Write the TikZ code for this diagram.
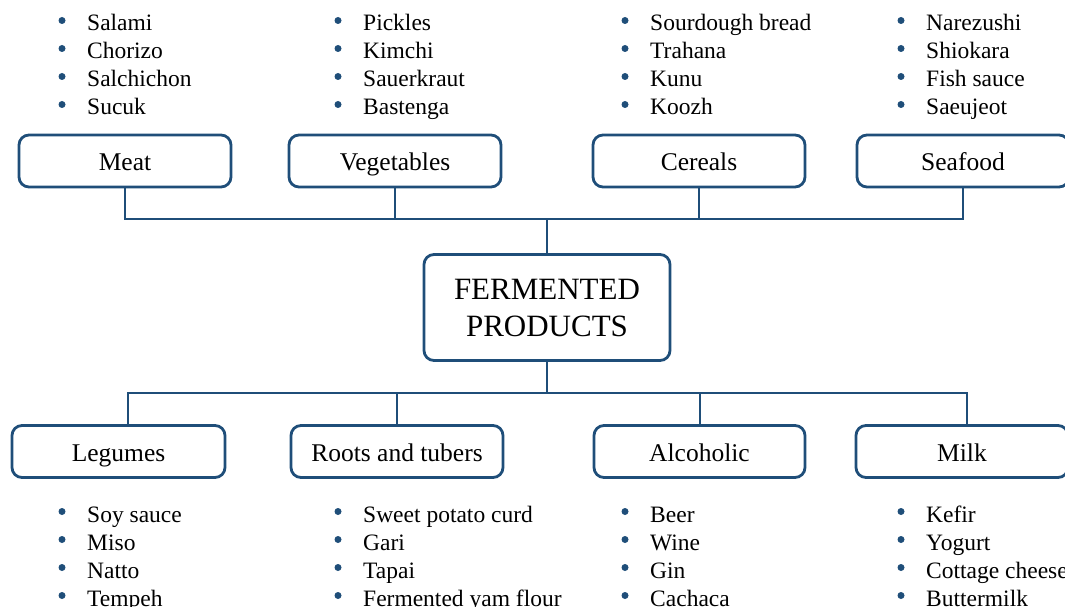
\documentclass[tikz,border=0pt]{standalone}
\usepackage{fontspec}
\setmainfont{Liberation Serif}
\definecolor{fblue}{RGB}{31,78,121}
\tikzset{
  boxbase/.style={draw=fblue, line width=2.8pt, rounded corners=10pt, inner sep=0pt, text=black},
  catbox/.style={boxbase, minimum width=212pt, minimum height=52pt, text height=19.5pt, text depth=0.5pt, font=\fontsize{25.5}{30}\selectfont},
  mainbox/.style={boxbase, minimum width=246pt, minimum height=106pt, font=\fontsize{31}{37}\selectfont, align=center},
  link/.style={draw=fblue, line width=2pt},
  itemtext/.style={anchor=base west, inner sep=0pt, font=\fontsize{23.5}{28}\selectfont},
  dot/.style={circle, fill=fblue, inner sep=0pt, minimum size=7pt}
}
\newcommand\flist[4]{%
  \foreach \t [count=\i] in {#4} {
    \node[itemtext] (#1-\i) at ({#2+25}, {#3+28*(\i-1)}) {\t};
    \node[dot] (#1-b\i) at ({#2}, {#3+28*(\i-1)-10.5}) {};
  }}
\begin{document}
\begin{tikzpicture}[x=1pt, y=-1pt]
\useasboundingbox (0,0) rectangle (1065,607);
\clip (0,0) rectangle (1065,607);

% top lists
\flist{lmeat}{62}{31}{Salami,Chorizo,Salchichon,Sucuk}
\flist{lveg}{338}{31}{Pickles,Kimchi,Sauerkraut,Bastenga}
\flist{lcer}{625}{31}{Sourdough bread,Trahana,Kunu,Koozh}
\flist{lsea}{901}{31}{Narezushi,Shiokara,Fish sauce,Saeujeot}

% bottom lists
\flist{lleg}{62}{522}{Soy sauce,Miso,Natto,Tempeh}
\flist{lroot}{338}{522}{Sweet potato curd,Gari,Tapai,Fermented yam flour}
\flist{lalc}{625}{522}{Beer,Wine,Gin,Cachaca}
\flist{lmilk}{901}{522}{Kefir,Yogurt,Cottage cheese,Buttermilk}

% boxes
\node[catbox] (meat) at (125,161) {Meat};
\node[catbox] (veg) at (395,161) {Vegetables};
\node[catbox] (cer) at (699,161) {Cereals};
\node[catbox] (sea) at (963,161) {Seafood};
\node[mainbox] (fp) at (547,307.5) {FERMENTED\\PRODUCTS};
\node[catbox, minimum width=213pt] (leg) at (118.5,451.5) {Legumes};
\node[catbox] (roots) at (397,451.5) {Roots and tubers};
\node[catbox, minimum width=211pt] (alc) at (699.5,451.5) {Alcoholic};
\node[catbox] (milk) at (962,451.5) {Milk};

% connectors
\coordinate (tb) at (547,219);
\coordinate (bb) at (547,393);
\draw[link] (meat.south) |- (tb) -| (sea.south);
\draw[link] (veg.south) -- (veg.south |- tb);
\draw[link] (cer.south) -- (cer.south |- tb);
\draw[link] (tb) -- (fp.north);
\draw[link] (fp.south) -- (bb);
\draw[link] ([xshift=9.5pt]leg.north) |- (bb) -| ([xshift=5pt]milk.north);
\draw[link] (roots.north) -- (roots.north |- bb);
\draw[link] (alc.north) -- (alc.north |- bb);
\end{tikzpicture}
\end{document}
